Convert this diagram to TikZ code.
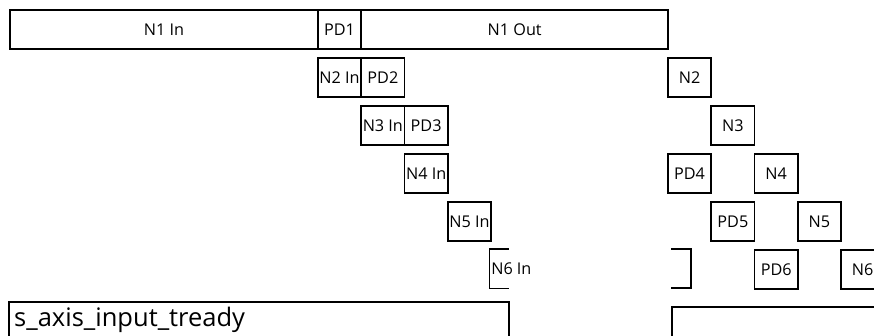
\documentclass[tikz,border=0pt]{standalone}
\usepackage{fontspec}
\setmainfont{Open Sans}
\begin{document}
\begin{tikzpicture}[x=1pt,y=-1pt,
  cell/.style={draw, line width=1.8pt, inner sep=0pt, minimum height=39pt, minimum width=43.3pt, font=\fontsize{16.2}{19}\selectfont, anchor=north west},
  bare/.style={inner sep=0pt, minimum height=39pt, minimum width=43.3pt, font=\fontsize{16.2}{19}\selectfont, anchor=north west},
  edge/.style={line width=1.8pt, line cap=rect}]
\useasboundingbox (0,0) rectangle (874,335);
\clip (0,0) rectangle (874,335);
% row 1
\node[cell, minimum width=308pt] (n1in) at (9,9) {N1 In};
\node[cell] (pd1) at (317,9) {PD1};
\node[cell, minimum width=307pt] (n1out) at (360.3,9) {N1 Out};
% row 2
\node[cell] (n2in) at (317,57) {N2 In};
\node[cell] (pd2) at (360.3,57) {PD2};
\node[cell] (n2) at (667,57) {N2};
% row 3
\node[cell] (n3in) at (360.3,105) {N3 In};
\node[cell] (pd3) at (403.6,105) {PD3};
\node[cell] (n3) at (710.3,105) {N3};
% row 4
\node[cell] (n4in) at (403.6,153) {N4 In};
\node[cell] (pd4) at (667,153) {PD4};
\node[cell] (n4) at (753.6,153) {N4};
% row 5
\node[cell] (n5in) at (446.9,201) {N5 In};
\node[cell] (pd5) at (710.3,201) {PD5};
\node[cell] (n5) at (796.9,201) {N5};
% row 6
\node[bare] (n6in) at (489.5,249) {N6 In};
\draw[edge] ([xshift=19pt]n6in.north west) -- (n6in.north west) -- (n6in.south west) -- ([xshift=19pt]n6in.south west);
\coordinate (brtop) at (691,249);
\coordinate (brbot) at (691,288);
\draw[edge] ([xshift=-19pt]brtop) -- (brtop) -- (brbot) -- ([xshift=-19pt]brbot);
\node[cell] (pd6) at (753.6,249) {PD6};
\node[cell] (n6) at (840,249) {N6};
% bottom signal rows
\coordinate (la) at (9,345);
\coordinate (lb) at (9,302);
\coordinate (lc) at (509,302);
\coordinate (ld) at (509,345);
\draw[edge] (la) -- (lb) -- (lc) -- (ld);
\node[anchor=base west, inner sep=0pt, font=\fontsize{25.5}{30}\selectfont] (tready) at (14,326) {s\_axis\_input\_tready};
\coordinate (ra) at (672,345);
\coordinate (rb) at (672,307);
\coordinate (rc) at (890,307);
\draw[edge] (ra) -- (rb) -- (rc);
\end{tikzpicture}
\end{document}
